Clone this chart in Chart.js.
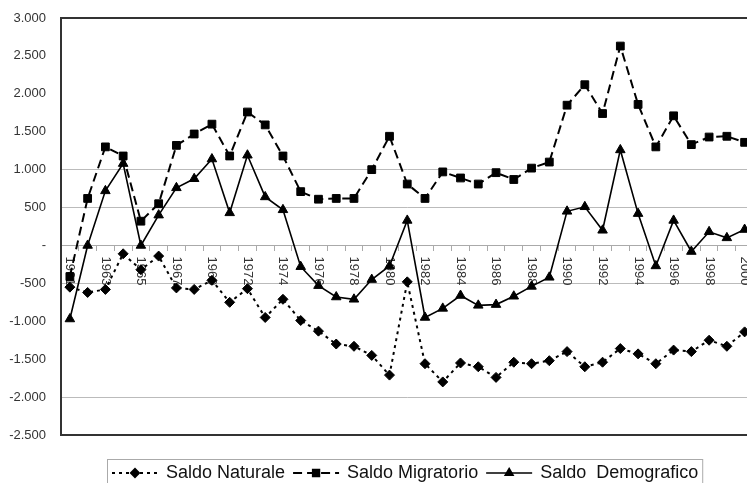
<!DOCTYPE html>
<html>
<head>
<meta charset="utf-8">
<script src="https://cdn.jsdelivr.net/npm/chart.js@4.4.1/dist/chart.umd.min.js"></script>
<style>
  body { margin: 0; background: #fff; }
  #wrap { width: 747px; height: 483px; overflow: hidden; }
</style>
</head>
<body>
<div id="wrap"><canvas id="saldi" width="760" height="483"></canvas></div>
<script>
// anni (il 1970 manca nella serie)
const anni = ['1961','1962','1963','1964','1965','1966','1967','1968','1969',
  '1971','1972','1973','1974','1975','1976','1977','1978','1979','1980',
  '1981','1982','1983','1984','1985','1986','1987','1988','1989','1990',
  '1991','1992','1993','1994','1995','1996','1997','1998','1999','2000'];

const saldoNaturale = [-550, -620, -580, -110, -320, -140, -560, -580, -460,
  -750, -570, -950, -710, -990, -1130, -1300, -1330, -1450, -1710,
  -480, -1560, -1800, -1550, -1600, -1740, -1540, -1560, -1520, -1400,
  -1600, -1540, -1360, -1430, -1560, -1380, -1400, -1250, -1330, -1140];

const saldoMigratorio = [-410, 620, 1300, 1180, 320, 550, 1320, 1470, 1600,
  1180, 1760, 1590, 1180, 710, 610, 620, 620, 1000, 1440,
  810, 620, 970, 890, 810, 960, 870, 1020, 1100, 1850,
  2120, 1740, 2630, 1860, 1300, 1710, 1330, 1430, 1440, 1360];

const saldoDemografico = [-970, 0, 720, 1080, 0, 400, 760, 880, 1140,
  430, 1190, 640, 470, -280, -530, -680, -710, -450, -270,
  330, -950, -830, -660, -790, -780, -670, -540, -420, 450,
  510, 200, 1260, 420, -270, 330, -80, 180, 100, 210];

const yMin = -2500, yMax = 3000, yStep = 500;
const lineeChiare = [1000, 500, -500, -2000];
const lineeScure = [3000, -2500];

function formatta(v) {
  if (v === 0) return '-';
  const s = Math.abs(v).toString().replace(/\B(?=(\d{3})+(?!\d))/g, '.');
  return (v < 0 ? '-' : '') + s;
}

const FONT = '"Liberation Sans", Arial, sans-serif';

// etichette degli anni, ruotate e appoggiate sulla linea dello zero
const etichetteAnni = {
  id: 'etichetteAnni',
  beforeDatasetsDraw(chart) {
    const ctx = chart.ctx;
    const sx = chart.scales.x, sy = chart.scales.y;
    const y0 = sy.getPixelForValue(0);
    ctx.save();
    ctx.font = '13px ' + FONT;
    ctx.fillStyle = '#333';
    ctx.textAlign = 'left';
    ctx.textBaseline = 'middle';
    anni.forEach((a, i) => {
      if (i % 2) return;
      ctx.save();
      ctx.translate(sx.getPixelForValue(i), y0 + 11);
      ctx.rotate(Math.PI / 2);
      ctx.fillText(a, 0, 0);
      ctx.restore();
    });
    ctx.restore();
  }
};

// legenda in basso con il riquadro
const legenda = {
  id: 'legenda',
  afterDraw(chart) {
    const ctx = chart.ctx;
    const yl = 473;
    ctx.save();
    ctx.font = '18px ' + FONT;
    let x = 112;
    const items = chart.data.datasets.map(ds => {
      const it = { ds, sx: x, tx: x + 54 };
      x = it.tx + ctx.measureText(ds.label).width + 8;
      return it;
    });
    ctx.strokeStyle = '#aaa';
    ctx.lineWidth = 1;
    ctx.strokeRect(107.5, 459.5, x - 4 - 107, 40);

    items.forEach(({ ds, sx, tx }) => {
      ctx.strokeStyle = '#000';
      ctx.fillStyle = '#000';
      ctx.lineWidth = ds.borderWidth;
      ctx.setLineDash(ds.borderDash || []);
      ctx.beginPath();
      ctx.moveTo(sx, yl);
      ctx.lineTo(sx + 46, yl);
      ctx.stroke();
      ctx.setLineDash([]);
      Chart.helpers.drawPoint(ctx, {
        pointStyle: ds.pointStyle, radius: ds.pointRadius - 1, rotation: 0, borderWidth: 1
      }, sx + 23, yl);
      ctx.fillStyle = '#111';
      ctx.textBaseline = 'middle';
      ctx.fillText(ds.label, tx, yl);
    });
    ctx.restore();
  }
};

const ctxSaldi = document.querySelector('#saldi');
const saldiChart = new Chart(ctxSaldi, {
  type: 'line',
  data: {
    labels: anni,
    datasets: [
      {
        label: 'Saldo Naturale',
        data: saldoNaturale,
        borderColor: '#000',
        backgroundColor: '#000',
        borderWidth: 2,
        borderDash: [3, 4],
        pointStyle: 'rectRot',
        pointRadius: 5,
        pointBorderWidth: 1
      },
      {
        label: 'Saldo Migratorio',
        data: saldoMigratorio,
        borderColor: '#000',
        backgroundColor: '#000',
        borderWidth: 2,
        borderDash: [9, 5],
        pointStyle: 'rect',
        pointRadius: 5.5,
        pointBorderWidth: 1
      },
      {
        label: 'Saldo  Demografico',
        data: saldoDemografico,
        borderColor: '#000',
        backgroundColor: '#000',
        borderWidth: 1.6,
        pointStyle: 'triangle',
        pointRadius: 5.5,
        pointBorderWidth: 1
      }
    ]
  },
  options: {
    responsive: false,
    animation: false,
    layout: { padding: { left: 0, top: 18, right: 3, bottom: 48 } },
    plugins: {
      legend: { display: false },
      tooltip: { enabled: false }
    },
    elements: { line: { tension: 0 } },
    scales: {
      x: {
        type: 'category',
        position: { y: 0 },
        offset: true,
        grid: {
          offset: true,
          drawOnChartArea: false,
          drawTicks: true,
          tickLength: 5,
          color: '#aaa'
        },
        border: { color: '#aaa', width: 1 },
        ticks: { display: false },
        afterFit: s => { s.height = 0; s.paddingLeft = 0; s.paddingRight = 0; }
      },
      y: {
        min: yMin,
        max: yMax,
        afterFit: s => { s.width = 61; s.paddingTop = 0; s.paddingBottom = 0; },
        ticks: {
          stepSize: yStep,
          padding: 15,
          color: '#333',
          font: { family: FONT, size: 13 },
          callback: v => formatta(v)
        },
        grid: {
          drawTicks: false,
          color: c => {
            const v = c.tick && c.tick.value;
            if (lineeScure.includes(v)) return '#333';
            if (v === 0) return '#aaa';
            if (lineeChiare.includes(v)) return '#bbb';
            return 'rgba(0,0,0,0)';
          },
          lineWidth: c => (lineeScure.includes(c.tick && c.tick.value) ? 2 : 1)
        },
        border: { color: '#333', width: 2 }
      }
    }
  },
  plugins: [etichetteAnni, legenda]
});
</script>
</body>
</html>
